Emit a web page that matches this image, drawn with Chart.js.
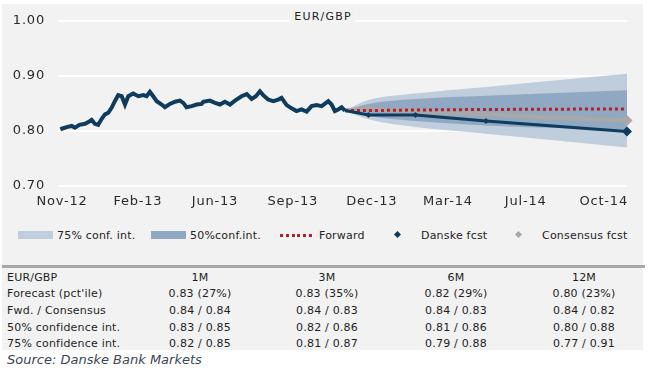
<!DOCTYPE html>
<html>
<head>
<meta charset="utf-8">
<script src="https://cdn.jsdelivr.net/npm/chart.js@4/dist/chart.umd.min.js"></script>
<style>
  html, body { margin: 0; padding: 0; background: #ffffff; }
  body { width: 652px; height: 370px; position: relative; overflow: hidden; font-family: "DejaVu Sans", sans-serif; }
  #panel { position: absolute; left: 2px; top: 4px; width: 641px; height: 346px; background: #f2f2f2; }
  #c { position: absolute; left: 0; top: 0; }
  .abs { position: absolute; white-space: nowrap; }
  #title { font-size: 11px; letter-spacing: 1.2px; color: #222; background: #f2f2f2; padding: 0 4px; transform: translate(-50%, -50%); }
  .leg { font-size: 11px; color: #222; letter-spacing: 0.2px; transform: translateY(-50%); }
  .cell { font-size: 11px; color: #1e1e1e; letter-spacing: 0.2px; transform: translateY(-50%); }
  .ctr { width: 130px; text-align: center; }
  #sep { position: absolute; left: 2px; top: 265px; width: 643px; height: 3px; background: #a8a8a8; }
  #source { font-size: 13px; font-style: italic; color: #3c4652; transform: translateY(-50%); }
</style>
</head>
<body>
<div id="panel"></div>
<canvas id="c" width="652" height="215"></canvas>
<div id="title" class="abs" style="left:323px; top:16px;">EUR/GBP</div>
<div id="legend"></div>
<div id="sep"></div>
<div id="table"></div>
<div id="source" class="abs" style="left:7px; top:359px;">Source: Danske Bank Markets</div>
<script>
// ---- data (x in months since start of Nov-12) ----
const tickMonths = [0.07, 3.30, 6.58, 9.89, 13.25, 16.49, 19.80, 23.12];
const tickLabels = ['Nov-12', 'Feb-13', 'Jun-13', 'Sep-13', 'Dec-13', 'Mar-14', 'Jul-14', 'Oct-14'];

const histMonths = [0.00, 0.06, 0.27, 0.48, 0.62, 0.81, 1.05, 1.19, 1.33, 1.47, 1.61, 1.76, 1.90, 2.04, 2.18, 2.32, 2.46, 2.61, 2.75, 2.89,
  3.10, 3.32, 3.53, 3.67, 3.81, 3.95, 4.10, 4.31, 4.45, 4.66, 4.88, 5.09, 5.23, 5.37, 5.59, 5.80, 6.01, 6.08, 6.36, 6.58,
  6.79, 7.00, 7.22, 7.43, 7.71, 7.93, 8.14, 8.32, 8.49, 8.63, 8.84, 9.06, 9.27, 9.41, 9.63, 9.84, 10.05, 10.26, 10.48, 10.69,
  10.90, 11.12, 11.40, 11.54, 11.68, 11.82, 11.97, 12.11];
const histValues = [0.803, 0.804, 0.807, 0.809, 0.806, 0.811, 0.813, 0.816, 0.820, 0.813, 0.811, 0.822, 0.830, 0.833, 0.842, 0.854, 0.865, 0.863, 0.848, 0.863,
  0.868, 0.863, 0.865, 0.863, 0.871, 0.863, 0.854, 0.848, 0.843, 0.849, 0.853, 0.855, 0.851, 0.843, 0.845, 0.848, 0.849, 0.853, 0.855, 0.851,
  0.848, 0.853, 0.848, 0.855, 0.863, 0.867, 0.858, 0.863, 0.872, 0.865, 0.857, 0.854, 0.857, 0.860, 0.847, 0.841, 0.836, 0.839, 0.835, 0.845,
  0.847, 0.845, 0.854, 0.848, 0.836, 0.839, 0.843, 0.837];

const fcstMonths = [12.11, 13.11, 15.11, 18.11, 24.11];   // spot, 1M, 3M, 6M, 12M
const danskeFcst = [0.837, 0.829, 0.829, 0.818, 0.799];
const consensusFcst = [0.837, 0.840, 0.836, 0.830, 0.819];
const forwardRate = [0.837, 0.837, 0.838, 0.839, 0.840];
const ci50Upper = [0.837, 0.849, 0.858, 0.864, 0.874];
const ci50Lower = [0.837, 0.827, 0.818, 0.810, 0.802];
const ci75Upper = [0.837, 0.856, 0.868, 0.880, 0.904];
const ci75Lower = [0.837, 0.821, 0.807, 0.795, 0.770];

const yTicks = [0.70, 0.80, 0.90, 1.00];

// ---- table ----
const tableHeader = ['EUR/GBP', '1M', '3M', '6M', '12M'];
const rowLabels = ["Forecast (pct'ile)", 'Fwd. / Consensus', '50% confidence int.', '75% confidence int.'];
const col1M = ['0.83 (27%)', '0.84 / 0.84', '0.83 / 0.85', '0.82 / 0.85'];
const col3M = ['0.83 (35%)', '0.84 / 0.83', '0.82 / 0.86', '0.81 / 0.87'];
const col6M = ['0.82 (29%)', '0.84 / 0.83', '0.81 / 0.86', '0.79 / 0.88'];
const col12M = ['0.80 (23%)', '0.84 / 0.82', '0.80 / 0.88', '0.77 / 0.91'];

const legendLabels = ['75% conf. int.', '50%conf.int.', 'Forward', 'Danske fcst', 'Consensus fcst'];

// ---- colours ----
const NAVY = '#0e3b5e', GREY = '#a8a8a8', RED = '#b31f2a', C75 = '#bfcddc', C50 = '#90a8c1';

// ---- build chart ----
const pts = (xs, ys) => xs.map((x, i) => ({ x: x, y: ys[i] }));

const lineBase = { pointRadius: 0, clip: false, tension: 0 };
new Chart(document.getElementById('c'), {
  type: 'line',
  data: {
    datasets: [
      Object.assign({}, lineBase, { label: 'hist', data: pts(histMonths, histValues), borderColor: NAVY, borderWidth: 4, order: 1 }),
      Object.assign({}, lineBase, { label: legendLabels[3], data: pts(fcstMonths, danskeFcst), borderColor: NAVY, borderWidth: 3,
        pointStyle: 'rectRot', pointRadius: [0, 3, 3, 3, 5], pointBackgroundColor: NAVY, pointBorderColor: NAVY, pointBorderWidth: 0, order: 2 }),
      Object.assign({}, lineBase, { label: legendLabels[2], data: pts(fcstMonths, forwardRate), borderColor: RED, borderWidth: 3,
        borderDash: [3, 3], order: 3 }),
      Object.assign({}, lineBase, { label: legendLabels[4], data: pts(fcstMonths, consensusFcst), borderColor: GREY, borderWidth: 4.5,
        pointStyle: 'rectRot', pointRadius: [0, 4, 4, 4, 5.5], pointBackgroundColor: GREY, pointBorderColor: GREY, pointBorderWidth: 0, order: 4 }),
      Object.assign({}, lineBase, { label: 'ci50u', data: pts(fcstMonths, ci50Upper), borderWidth: 0, borderColor: 'rgba(0,0,0,0)',
        backgroundColor: C50, fill: '+1', cubicInterpolationMode: 'monotone', order: 10 }),
      Object.assign({}, lineBase, { label: 'ci50l', data: pts(fcstMonths, ci50Lower), borderWidth: 0, borderColor: 'rgba(0,0,0,0)',
        fill: false, cubicInterpolationMode: 'monotone', order: 10 }),
      Object.assign({}, lineBase, { label: 'ci75u', data: pts(fcstMonths, ci75Upper), borderWidth: 0, borderColor: 'rgba(0,0,0,0)',
        backgroundColor: C75, fill: '+1', cubicInterpolationMode: 'monotone', order: 20 }),
      Object.assign({}, lineBase, { label: 'ci75l', data: pts(fcstMonths, ci75Lower), borderWidth: 0, borderColor: 'rgba(0,0,0,0)',
        fill: false, cubicInterpolationMode: 'monotone', order: 20 })
    ]
  },
  options: {
    responsive: false,
    animation: false,
    devicePixelRatio: 1,
    layout: { autoPadding: false, padding: { left: 13, right: 25, top: 15, bottom: 0 } },
    plugins: { legend: { display: false }, tooltip: { enabled: false }, title: { display: false } },
    scales: {
      x: {
        type: 'linear', min: -0.1, max: 24.11,
        grid: { display: false, drawTicks: false },
        border: { display: false },
        afterBuildTicks: s => { s.ticks = tickMonths.map(v => ({ value: v })); },
        afterFit: s => { s.height = 29; },
        ticks: {
          autoSkip: false, maxRotation: 0, minRotation: 0, padding: 8, color: '#2a2a2a',
          font: { family: 'DejaVu Sans', size: 13 },
          callback: (v, i) => tickLabels[i]
        }
      },
      y: {
        min: 0.70, max: 1.00,
        afterBuildTicks: s => { s.ticks = yTicks.map(v => ({ value: v })); },
        afterFit: s => { s.width = 45; },
        grid: { color: '#ffffff', lineWidth: 2, drawTicks: false },
        border: { display: false },
        ticks: {
          padding: 13, color: '#2a2a2a',
          font: { family: 'DejaVu Sans', size: 13 },
          callback: v => Number(v).toFixed(2)
        }
      }
    }
  },
  plugins: [{
    id: 'spacing',
    beforeDraw: chart => { chart.ctx.letterSpacing = '0.8px'; }
  }]
});

// ---- legend (HTML) ----
const legend = document.getElementById('legend');
const LY = 235;
function add(parent, html, cls, style) {
  const d = document.createElement('div');
  d.className = 'abs ' + (cls || '');
  d.setAttribute('style', style);
  d.textContent = html;
  parent.appendChild(d);
  return d;
}
add(legend, '', '', `left:18px; top:${LY - 4}px; width:35px; height:8px; background:${C75};`);
add(legend, legendLabels[0], 'leg', `left:57px; top:${LY}px;`);
add(legend, '', '', `left:151px; top:${LY - 4}px; width:35px; height:8px; background:${C50};`);
add(legend, legendLabels[1], 'leg', `left:190px; top:${LY}px;`);
add(legend, '', '', `left:280px; top:${LY - 1.5}px; width:33px; height:3px; background: repeating-linear-gradient(90deg, ${RED} 0 3px, transparent 3px 5.8px);`);
add(legend, legendLabels[2], 'leg', `left:319px; top:${LY}px;`);
add(legend, '', '', `left:395px; top:${LY - 3}px; width:5px; height:5px; background:${NAVY}; transform: rotate(45deg);`);
add(legend, legendLabels[3], 'leg', `left:421px; top:${LY}px;`);
add(legend, '', '', `left:516px; top:${LY - 3}px; width:5px; height:5px; background:${GREY}; transform: rotate(45deg);`);
add(legend, legendLabels[4], 'leg', `left:542px; top:${LY}px;`);

// ---- table (HTML) ----
const table = document.getElementById('table');
const colCenters = [200, 327, 456, 584];
const rowYs = [293, 310, 327, 343];
const cols = [col1M, col3M, col6M, col12M];
const HY = 277;
add(table, tableHeader[0], 'cell', `left:7px; top:${HY}px;`);
for (let c = 0; c < 4; c++) {
  add(table, tableHeader[c + 1], 'cell ctr', `left:${colCenters[c] - 65}px; top:${HY}px;`);
}
for (let r = 0; r < rowLabels.length; r++) {
  add(table, rowLabels[r], 'cell', `left:7px; top:${rowYs[r]}px;`);
  for (let c = 0; c < 4; c++) {
    add(table, cols[c][r], 'cell ctr', `left:${colCenters[c] - 65}px; top:${rowYs[r]}px;`);
  }
}
</script>
</body>
</html>
